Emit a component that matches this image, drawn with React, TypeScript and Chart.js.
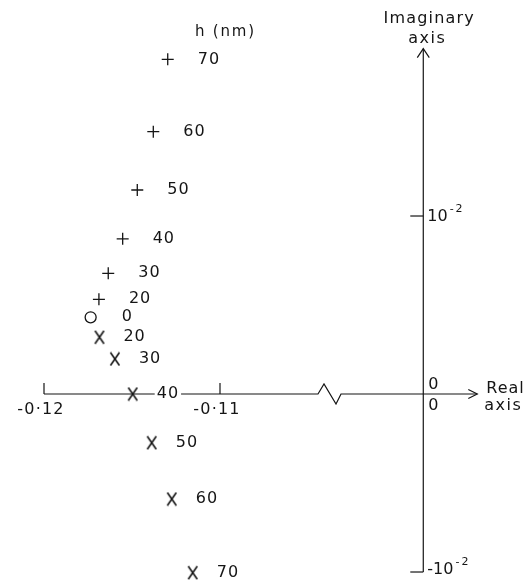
import { useEffect, useRef } from "react";
import { Chart, registerables } from "chart.js";

Chart.register(...registerables);

// Film thickness h (nm) for each computed root
const hGrowth = [20, 30, 40, 50, 60, 70];
const reGrowth = [-0.11688, -0.11635, -0.11553, -0.1147, -0.11379, -0.11297];
const imGrowth = [0.00532, 0.00678, 0.00872, 0.01146, 0.01474, 0.0188];

const hBare = [0];
const reBare = [-0.11735];
const imBare = [0.00431];

const hDecay = [20, 30, 40, 50, 60, 70];
const reDecay = [-0.11685, -0.11597, -0.11496, -0.11388, -0.11274, -0.11155];
const imDecay = [0.00319, 0.00197, 0.0, -0.00274, -0.0059, -0.01004];

// Axis ticks
const realTicks = [-0.12, -0.11];
const realTickLabels = ["-0·12", "-0·11"];
const imagTicks = [0.01, -0.01];
const imagTickLabels = ["10", "-10"];
const imagTickExponent = "-2";

// The real axis is broken: the origin is drawn where this value would sit
const ORIGIN_DRAWN_AT = -0.09845;
const BREAK_AT = -0.10375;
const IMAG_AXIS_TOP = 0.0194;

const FONT = '"DejaVu Sans", sans-serif';
const INK = "#151515";

function makeXGlyph(): HTMLCanvasElement {
  const c = document.createElement("canvas");
  c.width = 12;
  c.height = 15;
  const g = c.getContext("2d")!;
  g.strokeStyle = INK;
  g.lineWidth = 1.6;
  g.lineCap = "butt";
  g.beginPath();
  g.moveTo(1.5, 1);
  g.lineTo(10.5, 14);
  g.moveTo(10.5, 1);
  g.lineTo(1.5, 14);
  g.stroke();
  return c;
}

function text(
  ctx: CanvasRenderingContext2D,
  s: string,
  x: number,
  y: number,
  size: number,
  align: CanvasTextAlign = "left",
  baseline: CanvasTextBaseline = "middle",
  spacing = "0.5px"
) {
  ctx.font = `${size}px ${FONT}`;
  (ctx as any).letterSpacing = spacing;
  ctx.textAlign = align;
  ctx.textBaseline = baseline;
  ctx.fillStyle = INK;
  ctx.fillText(s, x, y);
}

const complexPlane = {
  id: "complexPlane",
  beforeDatasetsDraw(chart: Chart) {
    const ctx = chart.ctx;
    const xs = chart.scales.x;
    const ys = chart.scales.y;
    const y0 = ys.getPixelForValue(0);
    const xLeft = xs.getPixelForValue(realTicks[0]);
    const xb = xs.getPixelForValue(BREAK_AT);
    const xo = xs.getPixelForValue(ORIGIN_DRAWN_AT);
    const xTip = xo + 54;
    const yBottom = ys.getPixelForValue(imagTicks[1]);
    const yTop = ys.getPixelForValue(IMAG_AXIS_TOP);

    ctx.save();
    ctx.strokeStyle = INK;
    ctx.lineWidth = 1.2;
    ctx.lineJoin = "miter";

    // real axis with break
    ctx.beginPath();
    ctx.moveTo(xLeft, y0);
    ctx.lineTo(xb - 12, y0);
    ctx.lineTo(xb - 6, y0 - 10);
    ctx.lineTo(xb + 6, y0 + 10);
    ctx.lineTo(xb + 11, y0);
    ctx.lineTo(xTip, y0);
    ctx.stroke();
    // real axis arrow
    ctx.beginPath();
    ctx.moveTo(xTip - 9, y0 - 4.5);
    ctx.lineTo(xTip, y0);
    ctx.lineTo(xTip - 9, y0 + 4.5);
    ctx.stroke();

    // imaginary axis
    ctx.beginPath();
    ctx.moveTo(xo, yBottom);
    ctx.lineTo(xo, yTop);
    ctx.stroke();
    ctx.beginPath();
    ctx.moveTo(xo - 6, yTop + 9);
    ctx.lineTo(xo, yTop);
    ctx.lineTo(xo + 6, yTop + 9);
    ctx.stroke();

    // real ticks (pointing up)
    realTicks.forEach((v, i) => {
      const px = xs.getPixelForValue(v);
      ctx.beginPath();
      ctx.moveTo(px, y0);
      ctx.lineTo(px, y0 - 11);
      ctx.stroke();
      text(ctx, realTickLabels[i], px - 3, y0 + 16, 16, "center", "middle", "1.2px");
    });

    // imaginary ticks (pointing left)
    imagTicks.forEach((v, i) => {
      const py = ys.getPixelForValue(v);
      ctx.beginPath();
      ctx.moveTo(xo - 13, py);
      ctx.lineTo(xo, py);
      ctx.stroke();
      const lx = xo + 4;
      const ly = py + (v < 0 ? -2 : 1);
      text(ctx, imagTickLabels[i], lx, ly, 16, "left", "middle", "0px");
      ctx.font = `16px ${FONT}`;
      (ctx as any).letterSpacing = "0px";
      const w = ctx.measureText(imagTickLabels[i]).width;
      text(ctx, imagTickExponent, lx + w + 2, ly - 8, 11, "left", "middle", "2px");
    });

    // origin labels
    text(ctx, "0", xo + 5, y0 - 9, 16);
    text(ctx, "0", xo + 5, y0 + 12, 16);

    // axis titles
    text(ctx, "Real", xo + 63, y0 - 1, 16, "left", "alphabetic", "1px");
    text(ctx, "axis", xo + 61, y0 + 16, 16, "left", "alphabetic", "1.5px");
    text(ctx, "Imaginary", xo + 6, yTop - 26, 16, "center", "alphabetic", "1.2px");
    text(ctx, "axis", xo + 4, yTop - 6, 16, "center", "alphabetic", "1.5px");

    // column heading for the point labels
    text(ctx, "h (nm)", 195, 32, 15, "left", "middle", "1.8px");
    ctx.restore();
  },
  afterDatasetsDraw(chart: Chart) {
    const ctx = chart.ctx;
    const offsets = [30, 31, 24];
    const labels = [hGrowth, hBare, hDecay];
    ctx.save();
    chart.data.datasets.forEach((_, di) => {
      const meta = chart.getDatasetMeta(di);
      meta.data.forEach((el: any, i: number) => {
        const s = String(labels[di][i]);
        const x = el.x + offsets[di];
        const y = el.y;
        ctx.font = `16px ${FONT}`;
        (ctx as any).letterSpacing = "1px";
        const w = ctx.measureText(s).width;
        ctx.fillStyle = "#fff";
        ctx.fillRect(x - 2, y - 8, w + 4, 16);
        text(ctx, s, x, y, 16, "left", "middle", "1px");
      });
    });
    ctx.restore();
  },
};

export default function App() {
  const canvasRef = useRef<HTMLCanvasElement>(null);

  useEffect(() => {
    const canvas = canvasRef.current;
    if (!canvas) return;
    const xGlyph = makeXGlyph();
    const pts = (re: number[], im: number[]) => re.map((r, i) => ({ x: r, y: im[i] }));

    const chart = new Chart(canvas, {
      type: "scatter",
      data: {
        datasets: [
          {
            label: "growth",
            data: pts(reGrowth, imGrowth),
            pointStyle: "cross",
            pointRadius: 6,
            borderColor: INK,
            borderWidth: 1.3,
          },
          {
            label: "bare",
            data: pts(reBare, imBare),
            pointStyle: "circle",
            pointRadius: 5.5,
            borderColor: INK,
            backgroundColor: "rgba(255,255,255,0)",
            borderWidth: 1.3,
          },
          {
            label: "decay",
            data: pts(reDecay, imDecay),
            pointStyle: xGlyph as any,
            pointRadius: 6,
            borderColor: INK,
          },
        ],
      },
      options: {
        animation: false,
        responsive: true,
        maintainAspectRatio: false,
        events: [],
        layout: { padding: 0, autoPadding: false },
        plugins: { legend: { display: false }, tooltip: { enabled: false } },
        scales: {
          x: { type: "linear", min: -0.1225, max: -0.092557, display: false },
          y: { type: "linear", min: -0.01073, max: 0.022135, display: false },
        },
      },
      plugins: [complexPlane],
    });
    return () => chart.destroy();
  }, []);

  return (
    <div
      style={{
        position: "fixed",
        left: 0,
        top: 0,
        width: 527,
        height: 585,
        background: "#fff",
      }}
    >
      <canvas ref={canvasRef} />
    </div>
  );
}
